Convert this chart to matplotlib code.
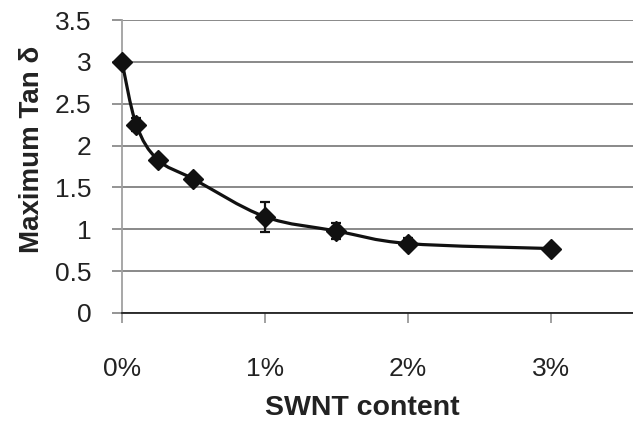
import matplotlib
matplotlib.use("Agg")
import matplotlib.pyplot as plt
from matplotlib.path import Path
from matplotlib.patches import PathPatch
from matplotlib.ticker import FuncFormatter

# SWNT content (%) vs maximum tan delta
swnt = [0, 0.1, 0.25, 0.5, 1.0, 1.5, 2.0, 3.0]
tan_delta = [3.0, 2.25, 1.83, 1.60, 1.15, 0.98, 0.83, 0.77]
err = [0, 0.08, 0.03, 0.03, 0.18, 0.10, 0.06, 0]

y_ticks = [0, 0.5, 1, 1.5, 2, 2.5, 3, 3.5]
x_ticks = [0, 1, 2, 3]

plt.rcParams['font.family'] = ['Liberation Sans', 'DejaVu Sans']

fig = plt.figure(figsize=(6.33, 4.22), dpi=100)
ax = fig.add_axes([0.1927, 0.2583, 0.8073, 0.6943])


def smooth_path(xs, ys):
    # Excel-like smoothed line: Catmull-Rom segments as cubic Bezier
    pts = list(zip(xs, ys))
    verts = [pts[0]]
    codes = [Path.MOVETO]
    n = len(pts)
    for i in range(n - 1):
        p0 = pts[i - 1] if i > 0 else pts[i]
        p1 = pts[i]
        p2 = pts[i + 1]
        p3 = pts[i + 2] if i + 2 < n else pts[i + 1]
        c1 = (p1[0] + (p2[0] - p0[0]) / 6, p1[1] + (p2[1] - p0[1]) / 6)
        c2 = (p2[0] - (p3[0] - p1[0]) / 6, p2[1] - (p3[1] - p1[1]) / 6)
        verts += [c1, c2, p2]
        codes += [Path.CURVE4] * 3
    return Path(verts, codes)


ax.add_patch(PathPatch(smooth_path(swnt, tan_delta), fill=False,
                       edgecolor='#111111', linewidth=2.3, zorder=3))
ax.errorbar(swnt, tan_delta, yerr=err, fmt='none', ecolor='#111111',
            elinewidth=1.6, capsize=3.5, capthick=1.6, zorder=3)
ax.plot(swnt, tan_delta, linestyle='none', marker='D', markersize=10,
        color='#111111', zorder=4, clip_on=False)

ax.set_xlim(0, 3.575)
ax.set_ylim(0, 3.5)
ax.set_yticks(y_ticks)
ax.set_yticklabels([('%g' % v) for v in y_ticks])
ax.set_xticks(x_ticks)
ax.xaxis.set_major_formatter(FuncFormatter(lambda v, p: '%d%%' % v))

ax.grid(True, axis='y', color='#6a6a6a', linewidth=1.1)
ax.set_axisbelow(True)
for s in ['top', 'right']:
    ax.spines[s].set_visible(False)
ax.spines['left'].set_color('#a0a0a0')
ax.spines['left'].set_linewidth(1.3)
ax.spines['bottom'].set_color('#222222')
ax.spines['bottom'].set_linewidth(1.3)

ax.tick_params(axis='y', length=7, width=1.1, color='#777777',
               labelsize=19, pad=15, labelcolor='#222222')
ax.tick_params(axis='x', length=7, width=1.1, color='#888888',
               labelsize=19, pad=25, labelcolor='#222222')

ax.set_xlabel('SWNT content', fontsize=20.5, fontweight='bold', color='#222222')
ax.xaxis.set_label_coords(0.47, -0.28)
ax.set_ylabel('Maximum Tan δ', fontsize=20, fontweight='bold', color='#222222')
ax.yaxis.set_label_coords(-0.15, 0.56)

fig.savefig('out.png', dpi=100)
